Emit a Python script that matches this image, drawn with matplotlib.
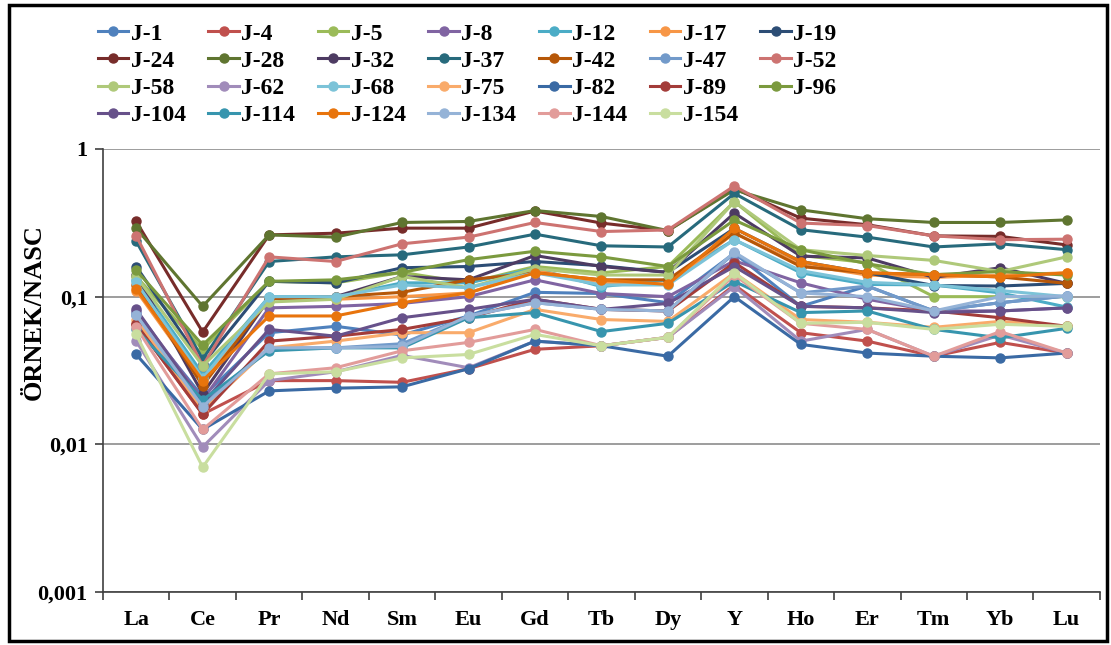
import matplotlib.pyplot as plt
from matplotlib.patches import Rectangle
from matplotlib.ticker import FixedLocator, NullLocator, FixedFormatter

# elements on x axis
elements = ["La", "Ce", "Pr", "Nd", "Sm", "Eu", "Gd", "Tb", "Dy", "Y", "Ho", "Er", "Tm", "Yb", "Lu"]

# sample / NASC values
J_1   = [0.075, 0.021, 0.057, 0.063, 0.055, 0.074, 0.107, 0.105, 0.091, 0.197, 0.086, 0.118, 0.080, 0.091, 0.101]
J_4   = [0.065, 0.016, 0.027, 0.027, 0.0263, 0.0325, 0.044, 0.0465, 0.053, 0.120, 0.057, 0.050, 0.0395, 0.049, 0.0415]
J_5   = [0.137, 0.044, 0.127, 0.124, 0.146, 0.124, 0.160, 0.145, 0.160, 0.440, 0.190, 0.170, 0.100, 0.100, 0.100]
J_8   = [0.080, 0.020, 0.084, 0.086, 0.090, 0.100, 0.130, 0.105, 0.100, 0.175, 0.124, 0.096, 0.080, 0.080, 0.084]
J_12  = [0.130, 0.030, 0.100, 0.100, 0.124, 0.124, 0.155, 0.117, 0.130, 0.243, 0.145, 0.121, 0.120, 0.106, 0.085]
J_17  = [0.110, 0.026, 0.097, 0.096, 0.100, 0.106, 0.150, 0.125, 0.121, 0.270, 0.165, 0.140, 0.135, 0.140, 0.145]
J_19  = [0.160, 0.035, 0.127, 0.124, 0.157, 0.160, 0.173, 0.162, 0.146, 0.290, 0.173, 0.145, 0.119, 0.118, 0.123]
J_24  = [0.323, 0.0576, 0.262, 0.269, 0.291, 0.291, 0.380, 0.315, 0.280, 0.540, 0.340, 0.307, 0.258, 0.256, 0.224]
J_28  = [0.290, 0.086, 0.262, 0.253, 0.318, 0.323, 0.383, 0.349, 0.280, 0.530, 0.387, 0.337, 0.318, 0.318, 0.331]
J_32  = [0.140, 0.022, 0.097, 0.100, 0.137, 0.130, 0.190, 0.160, 0.146, 0.368, 0.188, 0.183, 0.135, 0.157, 0.123]
J_37  = [0.237, 0.0377, 0.173, 0.186, 0.192, 0.217, 0.265, 0.221, 0.217, 0.500, 0.284, 0.253, 0.217, 0.228, 0.208]
J_42  = [0.120, 0.025, 0.097, 0.100, 0.107, 0.130, 0.145, 0.130, 0.130, 0.270, 0.160, 0.145, 0.141, 0.136, 0.123]
J_47  = [0.078, 0.019, 0.045, 0.045, 0.048, 0.074, 0.091, 0.082, 0.080, 0.197, 0.106, 0.118, 0.080, 0.091, 0.101]
J_52  = [0.258, 0.034, 0.186, 0.173, 0.228, 0.253, 0.318, 0.276, 0.283, 0.562, 0.315, 0.303, 0.258, 0.243, 0.245]
J_58  = [0.137, 0.034, 0.092, 0.096, 0.137, 0.115, 0.155, 0.140, 0.140, 0.440, 0.208, 0.190, 0.176, 0.148, 0.186]
J_62  = [0.050, 0.0096, 0.027, 0.031, 0.040, 0.033, 0.050, 0.0465, 0.053, 0.117, 0.050, 0.060, 0.0395, 0.055, 0.0415]
J_68  = [0.125, 0.028, 0.100, 0.100, 0.120, 0.115, 0.145, 0.120, 0.120, 0.243, 0.150, 0.125, 0.120, 0.110, 0.100]
J_75  = [0.070, 0.017, 0.045, 0.050, 0.057, 0.057, 0.082, 0.070, 0.068, 0.145, 0.070, 0.067, 0.062, 0.068, 0.063]
J_82  = [0.0406, 0.0126, 0.023, 0.024, 0.0245, 0.0325, 0.050, 0.0465, 0.0395, 0.100, 0.0475, 0.0415, 0.0395, 0.0385, 0.0415]
J_89  = [0.065, 0.016, 0.050, 0.054, 0.060, 0.072, 0.096, 0.082, 0.080, 0.170, 0.086, 0.084, 0.080, 0.072, 0.063]
J_96  = [0.151, 0.047, 0.127, 0.130, 0.146, 0.178, 0.203, 0.186, 0.160, 0.330, 0.208, 0.167, 0.141, 0.148, 0.140]
J_104 = [0.082, 0.019, 0.060, 0.054, 0.072, 0.082, 0.096, 0.082, 0.090, 0.160, 0.086, 0.084, 0.078, 0.080, 0.084]
J_114 = [0.060, 0.020, 0.043, 0.045, 0.045, 0.072, 0.078, 0.058, 0.066, 0.127, 0.078, 0.080, 0.060, 0.0526, 0.061]
J_124 = [0.113, 0.027, 0.074, 0.074, 0.091, 0.106, 0.145, 0.130, 0.121, 0.290, 0.173, 0.145, 0.141, 0.136, 0.145]
J_134 = [0.075, 0.018, 0.045, 0.045, 0.046, 0.074, 0.091, 0.082, 0.080, 0.200, 0.106, 0.100, 0.080, 0.100, 0.101]
J_144 = [0.062, 0.0126, 0.030, 0.033, 0.043, 0.049, 0.060, 0.0465, 0.053, 0.140, 0.066, 0.060, 0.0395, 0.058, 0.0415]
J_154 = [0.0555, 0.0070, 0.030, 0.031, 0.0385, 0.0406, 0.0555, 0.0465, 0.053, 0.145, 0.066, 0.067, 0.060, 0.065, 0.063]

names = ["J-1", "J-4", "J-5", "J-8", "J-12", "J-17", "J-19",
         "J-24", "J-28", "J-32", "J-37", "J-42", "J-47", "J-52",
         "J-58", "J-62", "J-68", "J-75", "J-82", "J-89", "J-96",
         "J-104", "J-114", "J-124", "J-134", "J-144", "J-154"]
series = [J_1, J_4, J_5, J_8, J_12, J_17, J_19,
          J_24, J_28, J_32, J_37, J_42, J_47, J_52,
          J_58, J_62, J_68, J_75, J_82, J_89, J_96,
          J_104, J_114, J_124, J_134, J_144, J_154]

# excel 2007 style palette
colors = ["#4F81BD", "#C0504D", "#9BBB59", "#8064A2", "#4BACC6", "#F79646", "#2C4D75",
          "#772C2A", "#5F7530", "#4D3B62", "#276A7C", "#B65708", "#729ACA", "#CD7371",
          "#AFC97A", "#A18CBA", "#7CC3D8", "#F9AB6B", "#3A6AA4", "#A33C39", "#7B9A3E",
          "#67518A", "#3795AE", "#E8740C", "#95B3D7", "#E29C9A", "#C9DE9F"]

plt.rcParams['font.family'] = ['Liberation Serif', 'DejaVu Serif']

fig = plt.figure(figsize=(11.11, 6.45), dpi=100)
ax = fig.add_axes([0.0927, 0.0822, 0.8973, 0.6868])

x = list(range(len(elements)))
lines = []
for name, vals, c in zip(names, series, colors):
    ln, = ax.plot(x, vals, color=c, lw=2.2, marker='o', ms=6.5, label=name)
    lines.append(ln)

ax.set_yscale('log')
ax.set_ylim(0.001, 1)
ax.set_xlim(-0.5, len(elements) - 0.5)
ax.yaxis.set_major_locator(FixedLocator([0.001, 0.01, 0.1, 1]))
ax.yaxis.set_major_formatter(FixedFormatter(["0,001", "0,01", "0,1", "1"]))
ax.yaxis.set_minor_locator(NullLocator())
ax.grid(axis='y', color='#8c8c8c', lw=1.2)
ax.set_axisbelow(True)

ax.set_xticks(x)
ax.set_xticklabels(elements, fontweight='bold', fontsize=16)
ax.set_xticks([i - 0.5 for i in range(len(elements) + 1)], minor=True)
ax.tick_params(axis='x', which='major', length=0, pad=13)
ax.tick_params(axis='x', which='minor', length=6, width=1.2, color='#404040')
ax.tick_params(axis='y', length=6, width=1.2, color='#404040', labelsize=16, pad=5)
for lab in ax.get_yticklabels():
    lab.set_fontweight('bold')

for s in ['top', 'right']:
    ax.spines[s].set_visible(False)
for s in ['left', 'bottom']:
    ax.spines[s].set_color('#404040')
    ax.spines[s].set_linewidth(1.2)

ax.set_ylabel("ÖRNEK/NASC", fontweight='bold', fontsize=19)
ax.yaxis.set_label_coords(-0.057, 0.633)

# legend is filled row by row in the reference, matplotlib fills by column
ncol = 7
order = []
for c in range(ncol):
    order += list(range(c, len(lines), ncol))
leg = fig.legend([lines[i] for i in order], [names[i] for i in order],
                 loc='upper left', bbox_to_anchor=(0.073, 0.99), ncol=ncol, frameon=False,
                 prop={'weight': 'bold', 'size': 17}, handlelength=1.3, handletextpad=0.1,
                 columnspacing=0.95, labelspacing=0.24, borderpad=0.2)

# outer frame
fig.patches.append(Rectangle((0.008, 0.006), 0.988, 0.986, transform=fig.transFigure,
                             fill=False, edgecolor='black', lw=2.5))

fig.savefig("out.png", dpi=100)
